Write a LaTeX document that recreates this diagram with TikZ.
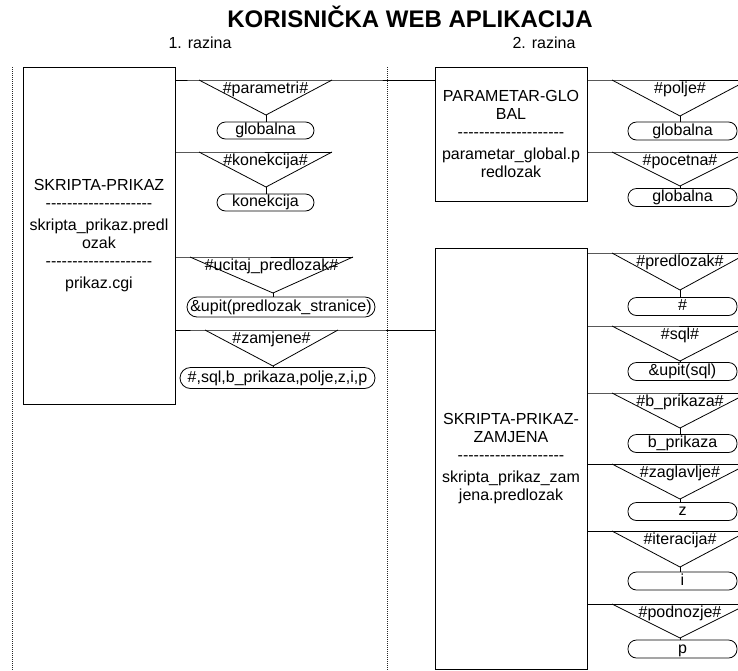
\documentclass[tikz,border=0pt]{standalone}
\usepackage{fontspec}
\setmainfont{Liberation Sans}
\newcommand\dsh{-\kern0pt}
\newcommand\dashrow{\dsh\dsh\dsh\dsh\dsh\dsh\dsh\dsh\dsh\dsh\dsh\dsh\dsh\dsh\dsh\dsh\dsh\dsh\dsh\dsh}
% branch: name, left x, right x, top y, apex x, apex y, label
\newcommand\branch[7]{%
  \coordinate (#1l) at (#2,#4);
  \coordinate (#1r) at (#3,#4);
  \coordinate (#1a) at (#5,#6);
  \draw (#1l) -- (#1a) -- (#1r);
  \node[anchor=base] (#1t) at ({(#2+#3)/2},{#4+13}) {#7};
}
\begin{document}
\begin{tikzpicture}[x=1pt,y=-1pt, line width=0.8pt,
  every node/.style={font=\fontsize{16}{18}\selectfont, inner sep=0pt},
  box/.style={draw, minimum width=152pt, align=center},
  stad/.style={draw, rounded corners=8.5pt, minimum height=18pt, text height=11.5pt, text depth=3.5pt},
  dots/.style={densely dotted, line width=1pt, black!85}]
\useasboundingbox (0,0) rectangle (738,670);

% titles
\node[anchor=base, font=\fontsize{24}{28}\selectfont\bfseries] (title) at (410,27) {KORISNIČKA WEB APLIKACIJA};
\node[anchor=base] (r1) at (200,48) {1. razina};
\node[anchor=base] (r2) at (544,48) {2. razina};

% level separators
\draw[dots] (12,67) -- (12,670);
\draw[dots] (387,67) -- (387,670);

% main boxes
\node[box, minimum height=337pt] (sp) at (99,235.5)
  {SKRIPTA-PRIKAZ\\ \dashrow\\[4pt] skripta\_prikaz.predl\\ ozak\\ \dashrow\\[4pt] prikaz.cgi};
\node[box, minimum height=134pt] (pg) at (511,134)
  {PARAMETAR-GLO\\ BAL\\ \dashrow\\[4pt] parametar\_global.p\\ redlozak};
\node[box, minimum height=421pt] (spz) at (511,458.5)
  {SKRIPTA-PRIKAZ-\\ ZAMJENA\\ \dashrow\\[4pt] skripta\_prikaz\_zam\\ jena.predlozak};

% level 1 branches
\branch{b1}{199}{332}{80}{266}{115}{\#parametri\#}
\branch{b2}{199}{332}{152}{266}{187}{\#konekcija\#}
\branch{b3}{190}{353}{257}{273}{293}{\#ucitaj\_predlozak\#}
\branch{b4}{205}{338}{330}{273}{366}{\#zamjene\#}

\node[stad, minimum width=97pt, minimum height=17pt] (s1) at (265.5,130.5) {globalna};
\node[stad, minimum width=97pt, minimum height=17pt] (s2) at (265.5,202.5) {konekcija};
\node[stad, minimum width=188pt, minimum height=20pt, rounded corners=10pt] (s3) at (281,307) {\&upit(predlozak\_stranice)};
\node[stad, minimum width=195pt, minimum height=21pt, rounded corners=10.5pt] (s4) at (277.5,378) {\#,sql,b\_prikaza,polje,z,i,p};

\draw (sp.east |- b1l) -- (b1l) -- (b1r) -- (pg.west |- b1r);
\draw (sp.east |- b2l) -- (b2l) -- (b2r);
\draw (sp.east |- b3l) -- (b3l) -- (b3r);
\draw (sp.east |- b4l) -- (b4l) -- (b4r) -- (spz.west |- b4r);
\draw (b1a) -- (b1a |- s1.north);
\draw (b2a) -- (b2a |- s2.north);
\draw (b3a) -- (b3a |- s3.north);
\draw (b4a) -- (b4a |- s4.north);

% level 2: PARAMETAR-GLOBAL branches
\branch{b5}{612}{748}{80}{680}{116}{\#polje\#}
\branch{b6}{612}{748}{152}{680}{186}{\#pocetna\#}
\node[stad, minimum width=109pt] (s5) at (682.5,131) {globalna};
\node[stad, minimum width=109pt] (s6) at (682.5,197.5) {globalna};
\draw (pg.east |- b5l) -- (b5l) -- (b5r);
\draw (pg.east |- b6l) -- (b6l) -- (b6r);
\draw (b5a) -- (b5a |- s5.north);
\draw (b6a) -- (b6a |- s6.north);

% level 2: SKRIPTA-PRIKAZ-ZAMJENA branches
\branch{b7}{612}{748}{253}{680}{290}{\#predlozak\#}
\branch{b8}{612}{748}{326}{680}{361}{\#sql\#}
\branch{b9}{612}{748}{393}{680}{428}{\#b\_prikaza\#}
\branch{b10}{612}{748}{464}{680}{499}{\#zaglavlje\#}
\branch{b11}{612}{748}{531}{680}{567}{\#iteracija\#}
\branch{b12}{612}{748}{604}{680}{638}{\#podnozje\#}
\node[stad, minimum width=109pt] (s7) at (682.5,306.5) {\#};
\node[stad, minimum width=109pt] (s8) at (682.5,371.5) {\&upit(sql)};
\node[stad, minimum width=109pt] (s9) at (682.5,443.5) {b\_prikaza};
\node[stad, minimum width=109pt] (s10) at (682.5,511.5) {z};
\node[stad, minimum width=109pt] (s11) at (682.5,581) {i};
\node[stad, minimum width=109pt] (s12) at (682.5,649) {p};
\foreach \i in {7,...,12}{
  \draw (spz.east |- b\i l) -- (b\i l) -- (b\i r);
  \draw (b\i a) -- (b\i a |- s\i.north);
}
\end{tikzpicture}
\end{document}
